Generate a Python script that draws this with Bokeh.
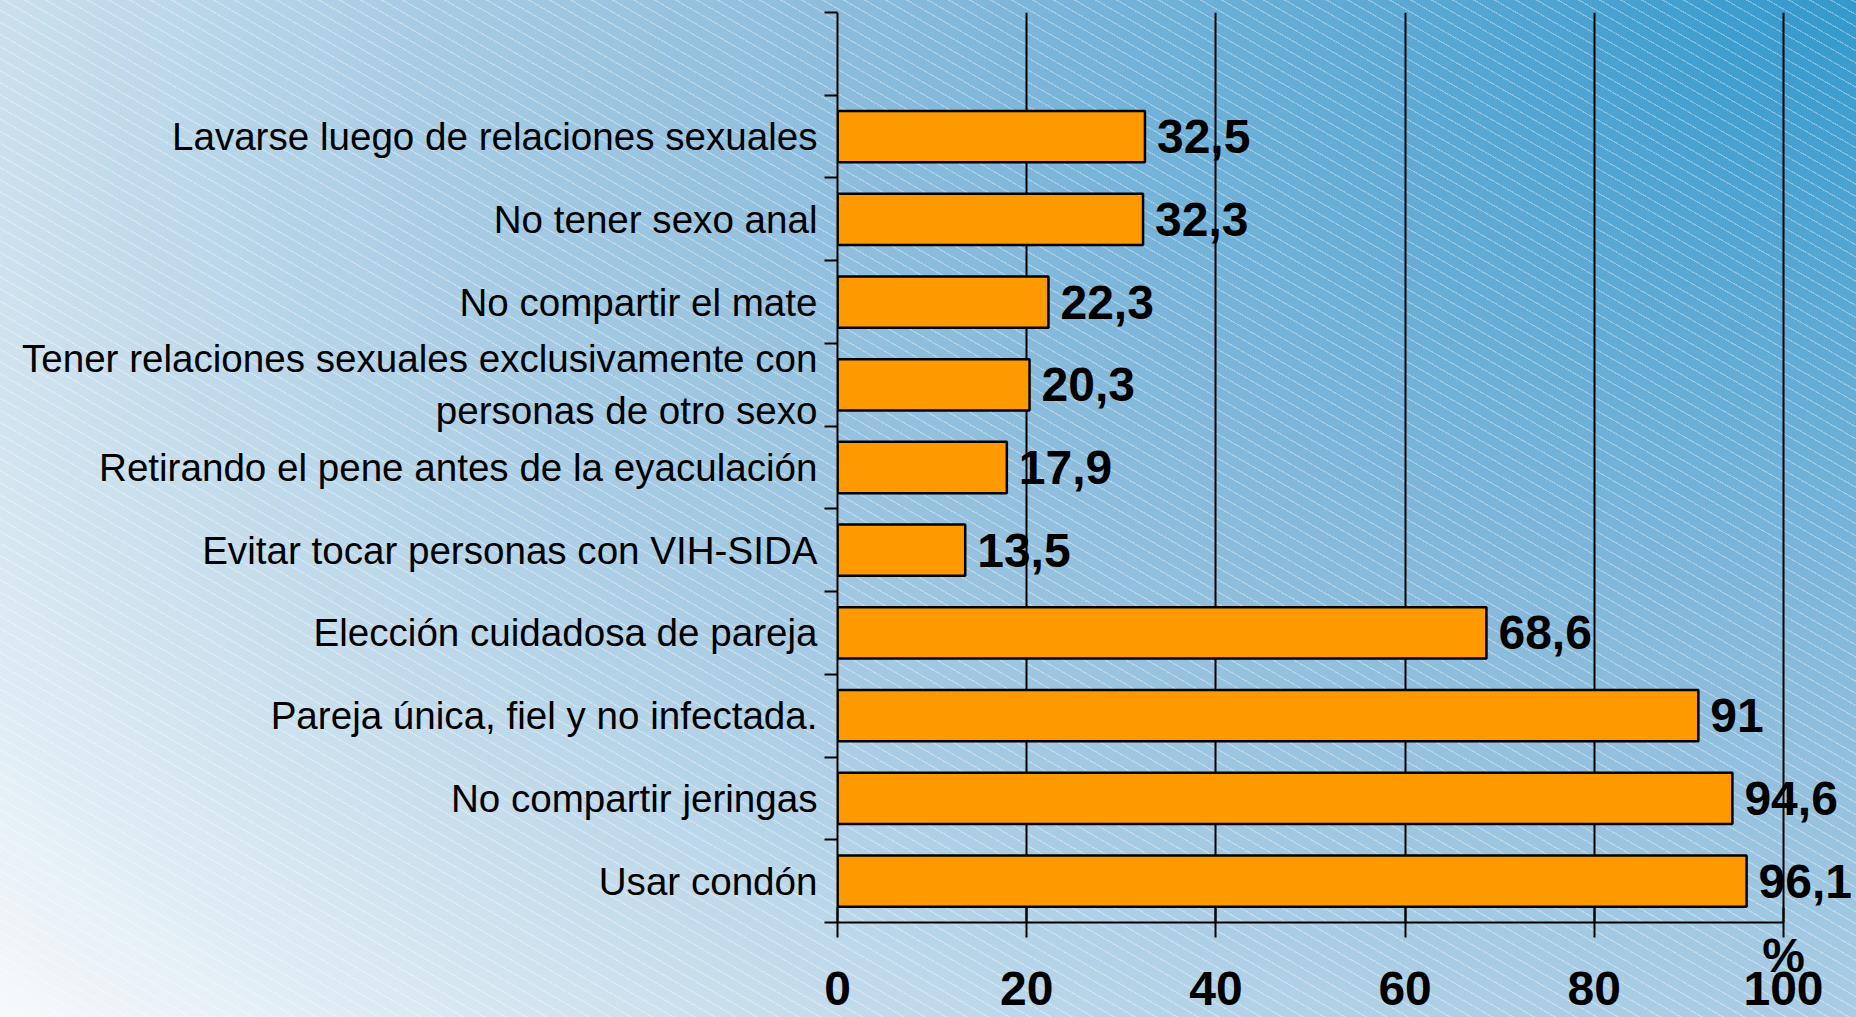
from bokeh.plotting import figure
from bokeh.models import FixedTicker, LabelSet, ColumnDataSource, Range1d
from bokeh.core.properties import value
from bokeh.embed import file_html
from bokeh.resources import INLINE

# ---- data (bottom to top) ----
categories = [
    "Usar condón",
    "No compartir jeringas",
    "Pareja única, fiel y no infectada.",
    "Elección cuidadosa de pareja",
    "Evitar tocar personas con VIH-SIDA",
    "Retirando el pene antes de la eyaculación",
    "Tener relaciones sexuales exclusivamente con\npersonas de otro sexo",
    "No compartir el mate",
    "No tener sexo anal",
    "Lavarse luego de relaciones sexuales",
]
values = [96.1, 94.6, 91, 68.6, 13.5, 17.9, 20.3, 22.3, 32.3, 32.5]
value_labels = ["96,1", "94,6", "91", "68,6", "13,5", "17,9", "20,3", "22,3", "32,3", "32,5"]
x_ticks = [0, 20, 40, 60, 80, 100]
x_unit = "%"

# ---- layout ----
W, H = 1856, 1017
LEFT, RIGHT, TOP, BOTTOM = 837, 3, 12, 95
AXIS_PX = 946                               # pixels spanned by 0..100
x_end = 100 * (W - RIGHT - LEFT) / AXIS_PX  # frame runs (almost) to the right edge so value labels are not clipped

n_slots = len(categories) + 1  # one empty slot on top
centers = [i + 0.5 for i in range(len(categories))]

src = ColumnDataSource(dict(y=centers, v=values, lab=value_labels))

bg = (
    "repeating-linear-gradient(30deg, rgba(255,255,255,0.32) 0px, rgba(255,255,255,0.32) 1.2px, "
    "rgba(255,255,255,0) 1.2px, rgba(255,255,255,0) 10.5px), "
    "radial-gradient(ellipse 1950px 1350px at 100% 0%, #3399cc 0%, #5eaad5 25%, #8cbcdc 52%, "
    "#a8cce4 74%, #cde1ee 97%, #fbfdfe 125%)"
)

p = figure(
    width=W, height=H,
    x_range=Range1d(0, x_end), y_range=Range1d(0, n_slots),
    output_backend="svg", toolbar_location=None,
    min_border=0, min_border_left=LEFT, min_border_right=RIGHT,
    min_border_top=TOP, min_border_bottom=BOTTOM,
    styles={"background-image": bg},
)
p.background_fill_color = None
p.border_fill_color = None
p.outline_line_color = None

p.hbar(y="y", right="v", left=0, height=0.62, source=src,
       fill_color="#ff9900", line_color="black", line_width=2.5)

labels = LabelSet(x="v", y="y", text="lab", source=src, x_offset=12,
                  text_align="left", text_baseline="middle",
                  text_font=value("Liberation Sans"), text_font_style="bold",
                  text_font_size="48px", text_color="black")
p.add_layout(labels)

# x axis: two-line tick labels, the unit sits on the first line above the last tick
xt = FixedTicker(ticks=x_ticks)
xa = p.xaxis[0]
xa.ticker = xt
xa.bounds = (x_ticks[0], x_ticks[-1])
xa.axis_line_color = "black"
xa.axis_line_width = 2
xa.major_tick_line_color = "black"
xa.major_tick_line_width = 2
xa.major_tick_in = 15
xa.major_tick_out = 15
xa.minor_tick_line_color = None
xa.major_label_overrides = {
    t: (x_unit if t == x_ticks[-1] else "") + "\n" + str(t) for t in x_ticks
}
xa.major_label_text_font = "Liberation Sans"
xa.major_label_text_font_style = "bold"
xa.major_label_text_font_size = "48px"
xa.major_label_text_color = "black"
xa.major_label_text_align = "center"
xa.major_label_text_line_height = 0.63
xa.major_label_standoff = -9

p.xgrid.ticker = xt
p.xgrid.grid_line_color = "black"
p.xgrid.grid_line_width = 2
p.ygrid.grid_line_color = None

# y axis: labels at slot centres, tick marks at slot boundaries
yt = FixedTicker(ticks=centers, minor_ticks=list(range(0, n_slots + 1)))
ya = p.yaxis[0]
ya.ticker = yt
ya.major_label_overrides = {c: lab for c, lab in zip(centers, categories)}
ya.axis_line_color = "black"
ya.axis_line_width = 2
ya.major_tick_in = 0
ya.major_tick_out = 0
ya.minor_tick_in = 0
ya.minor_tick_out = 13
ya.minor_tick_line_color = "black"
ya.minor_tick_line_width = 2
ya.major_label_standoff = 7
ya.major_label_text_font = "Liberation Sans"
ya.major_label_text_font_size = "38.6px"
ya.major_label_text_color = "black"
ya.major_label_text_align = "center"

open("out.html", "w").write(file_html(p, INLINE))
